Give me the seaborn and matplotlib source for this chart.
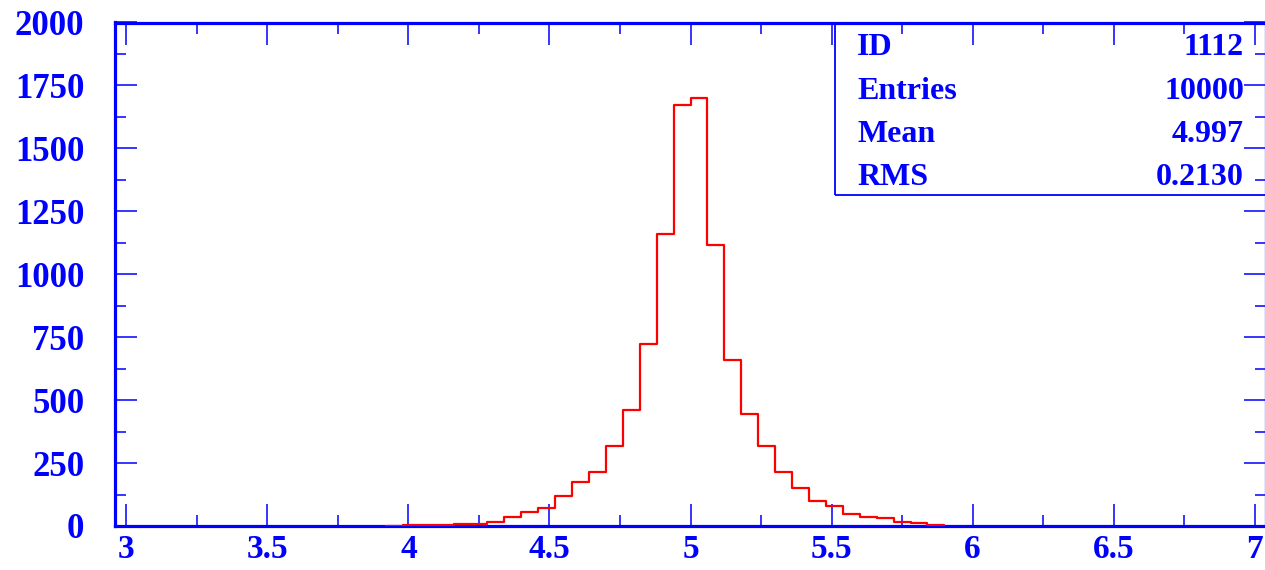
import numpy as np
import pandas as pd
import matplotlib
matplotlib.use("Agg")
import matplotlib.pyplot as plt
from matplotlib.ticker import MultipleLocator, FormatStrFormatter
from matplotlib.patches import Rectangle
import seaborn as sns

# ---- data ----
bin_start = 3.92
bin_width = 0.06
counts = [1, 2, 2, 3, 7, 9, 17, 36, 56, 73, 118, 176, 215, 318, 459, 722,
          1160, 1672, 1702, 1116, 658, 443, 318, 215, 151, 101, 81, 49, 36,
          31, 17, 11, 4]
stat_labels = ["ID", "Entries", "Mean", "RMS"]
stat_values = ["1112", "10000", "4.997", "0.2130"]
x_limits = (2.96, 7.04)
y_limits = (0, 2000)

edges = [round(bin_start + bin_width * i, 4) for i in range(len(counts) + 1)]
centers = [(a + b) / 2 for a, b in zip(edges[:-1], edges[1:])]
df = pd.DataFrame({"x": centers, "w": counts})

sns.set_style("ticks")
plt.rcParams["font.family"] = ["Liberation Serif", "DejaVu Serif"]
plt.rcParams["font.weight"] = "bold"

BLUE = "#0000ff"
RED = "#ff0000"
W, H = 1265, 570

fig = plt.figure(figsize=(W / 100, H / 100), dpi=100)
fig.patch.set_facecolor("white")
ax = fig.add_axes([115 / W, 44 / H, (1266 - 115) / W, (526 - 22.5) / H])

sns.histplot(data=df, x="x", weights="w", bins=edges, element="step",
             fill=False, color=RED, linewidth=1.6, ax=ax, zorder=3)

ax.set_xlim(*x_limits)
ax.set_ylim(*y_limits)
ax.set_xlabel("")
ax.set_ylabel("")

for s in ax.spines.values():
    s.set_visible(True)
    s.set_color(BLUE)
    s.set_linewidth(2.3)

ax.xaxis.set_major_locator(MultipleLocator(0.5))
ax.xaxis.set_minor_locator(MultipleLocator(0.25))
ax.yaxis.set_major_locator(MultipleLocator(250))
ax.yaxis.set_minor_locator(MultipleLocator(125))
ax.xaxis.set_major_formatter(FormatStrFormatter("%g"))
ax.yaxis.set_major_formatter(FormatStrFormatter("%g"))

ax.tick_params(which="both", direction="in", top=True, right=True,
               color=BLUE, width=1.1, labelcolor=BLUE, labelsize=25)
ax.tick_params(which="major", length=16)
ax.tick_params(which="minor", length=8)
ax.tick_params(axis="x", which="major", pad=6, labelsize=24)
ax.tick_params(axis="y", which="major", pad=22)
for lab in ax.get_xticklabels() + ax.get_yticklabels():
    lab.set_fontweight("bold")

# statistics box
fig.patches.append(Rectangle((835 / W, (H - 195) / H), (1275 - 835) / W,
                             (195 - 22.5) / H, transform=fig.transFigure,
                             fill=False, edgecolor=BLUE, linewidth=1.3))
baselines = [55, 99, 142, 185]
for lab, val, yb in zip(stat_labels, stat_values, baselines):
    fig.text(857 / W, 1 - yb / H, lab, ha="left", va="baseline",
             fontsize=23, color=BLUE, fontweight="bold")
    fig.text(1244 / W, 1 - yb / H, val, ha="right", va="baseline",
             fontsize=23, color=BLUE, fontweight="bold")

fig.savefig("out.png", dpi=100, facecolor="white")
